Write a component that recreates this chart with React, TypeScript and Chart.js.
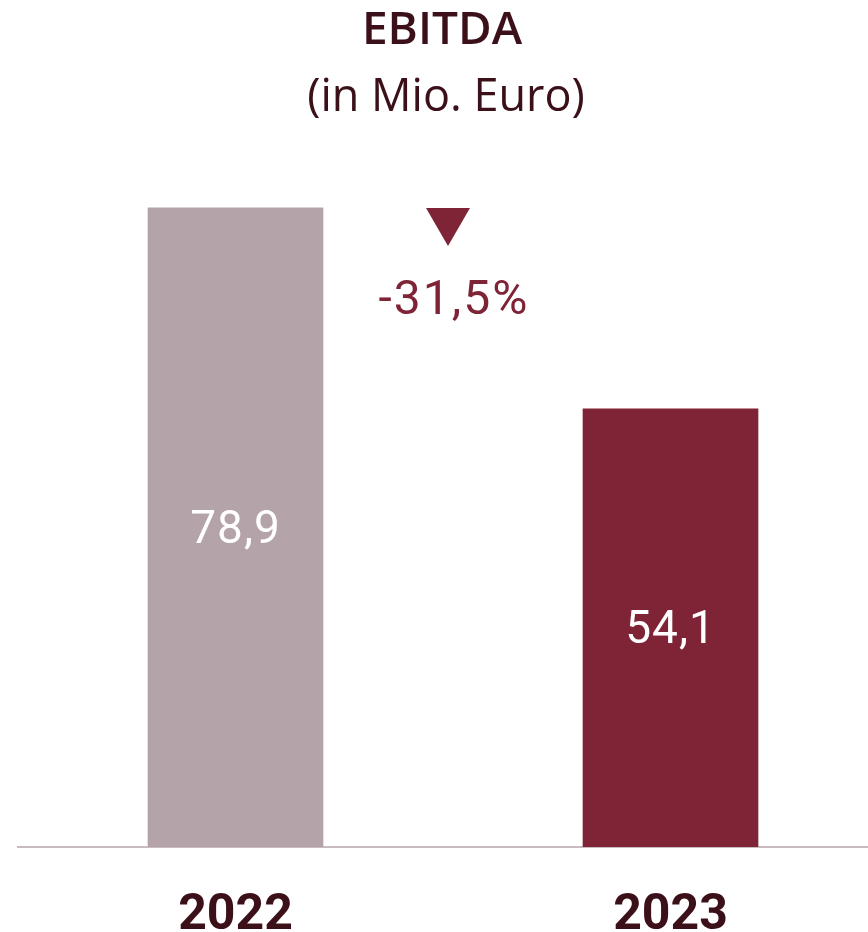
import React, { useEffect, useRef } from "react";
import { Chart, registerables } from "chart.js";

Chart.register(...registerables);

const categories = ["2022", "2023"];
const values = [78.9, 54.1];
const valueLabels = ["78,9", "54,1"];
const changeLabel = "-31,5%";
const titleText = "EBITDA";
const subtitleText = "(in Mio. Euro)";

const barColors = ["#b4a3a8", "#7e2436"];
const darkText = "#3b1019";
const accent = "#7e2436";

const overlayPlugin = {
  id: "overlay",
  afterDraw(chart: any) {
    const ctx = chart.ctx as CanvasRenderingContext2D;
    const meta = chart.getDatasetMeta(0);
    const yScale = chart.scales.y;
    ctx.save();
    // titles
    ctx.textAlign = "center";
    ctx.textBaseline = "middle";
    ctx.fillStyle = darkText;
    ctx.font = "600 46px 'Open Sans'";
    ctx.fillText(titleText, 442, 31);
    ctx.font = "400 45px 'Open Sans'";
    ctx.fillText(subtitleText, 446, 98);

    // value labels
    (ctx as any).letterSpacing = "1px";
    ctx.font = "400 46px Roboto";
    ctx.fillStyle = "#ffffff";
    meta.data.forEach((bar: any, i: number) => {
      const midY = (bar.y + bar.base) / 2 + 4;
      ctx.fillText(valueLabels[i], bar.x, midY);
    });

    // change annotation
    const x0 = meta.data[0].x;
    const x1 = meta.data[1].x;
    const cx = (x0 + x1) / 2 - 5;
    const topY = yScale.getPixelForValue(values[0]);
    ctx.fillStyle = accent;
    ctx.beginPath();
    ctx.moveTo(cx - 22, topY);
    ctx.lineTo(cx + 22, topY);
    ctx.lineTo(cx, topY + 38);
    ctx.closePath();
    ctx.fill();
    (ctx as any).letterSpacing = "2px";
    ctx.font = "400 48px Roboto";
    ctx.fillText(changeLabel, cx + 6, topY + 94);
    ctx.restore();
  },
};

export default function App() {
  const ref = useRef<HTMLCanvasElement | null>(null);
  useEffect(() => {
    if (!ref.current) return;
    const chart = new Chart(ref.current, {
      type: "bar",
      data: {
        labels: categories,
        datasets: [
          {
            data: values,
            backgroundColor: barColors,
            barThickness: 175,
            borderWidth: 0,
          },
        ],
      },
      options: {
        animation: false,
        responsive: false,
        maintainAspectRatio: false,
        layout: { padding: { left: 18, top: 118, right: 0, bottom: 0 } },
        plugins: {
          legend: { display: false },
          tooltip: { enabled: false },
          title: { display: false },
        },
        scales: {
          x: {
            grid: { display: false },
            border: { display: true, color: "#c8bcc0", width: 2 },
            ticks: {
              color: darkText,
              font: { family: "Roboto", weight: "bold", size: 50 },
              padding: 31,
            },
            afterFit: (scale: any) => {
              scale.height = 85;
            },
          },
          y: {
            display: false,
            min: 0,
            max: 90,
          },
        },
      },
      plugins: [overlayPlugin],
    });
    return () => chart.destroy();
  }, []);
  return (
    <div
      style={{
        position: "fixed",
        left: 0,
        top: 0,
        width: 868,
        height: 932,
        overflow: "hidden",
        background: "#ffffff",
      }}
    >
      <canvas ref={ref} width={888} height={932} style={{ display: "block" }} />
    </div>
  );
}
